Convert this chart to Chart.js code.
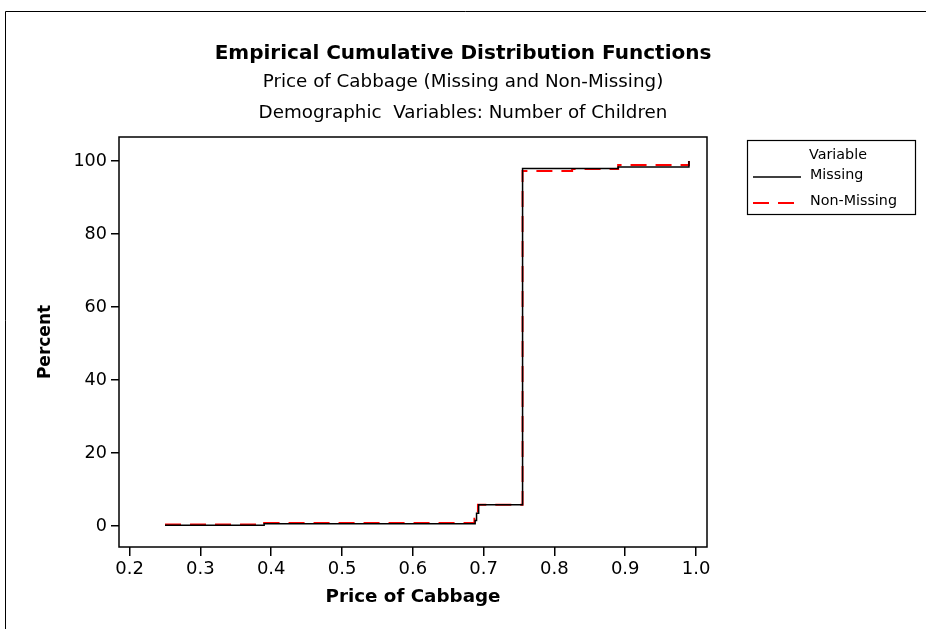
<!DOCTYPE html>
<html>
<head>
<meta charset="utf-8">
<script src="https://cdn.jsdelivr.net/npm/chart.js@4/dist/chart.umd.min.js"></script>
<style>
  html, body { margin: 0; padding: 0; background: #fff; }
  #wrap { width: 926px; height: 629px; }
</style>
</head>
<body>
<div id="wrap"><canvas id="ecdf" width="926" height="629"></canvas></div>
<script>
// Empirical CDF of cabbage price, split by whether "Number of Children" is missing
const missingPrice = [0.25, 0.39, 0.688, 0.690, 0.693, 0.755, 0.89, 0.99];
const missingPercent = [0.2, 0.6, 1.5, 3.5, 5.8, 98.0, 98.4, 100];

const nonMissingPrice = [0.25, 0.39, 0.687, 0.689, 0.692, 0.755, 0.825, 0.89, 0.99];
const nonMissingPercent = [0.4, 0.8, 2.0, 4.0, 5.8, 97.3, 97.8, 98.9, 100];

const priceTicks = [0.2, 0.3, 0.4, 0.5, 0.6, 0.7, 0.8, 0.9, 1.0];
const percentTicks = [0, 20, 40, 60, 80, 100];

const seriesNames = ['Missing', 'Non-Missing'];
const legendTitle = 'Variable';

const titleText = 'Empirical Cumulative Distribution Functions';
const subtitleLines = ['Price of Cabbage (Missing and Non-Missing)', 'Demographic  Variables: Number of Children'];

const FONT = "'DejaVu Sans', Verdana, sans-serif";

const toPoints = (xs, ys) => xs.map((x, i) => ({ x: x, y: ys[i] }));

// Outer frame, headings, plot box and the boxed legend
const decor = {
  id: 'decor',
  beforeDraw(chart) {
    const ctx = chart.ctx;
    ctx.save();
    ctx.strokeStyle = '#000';
    ctx.lineWidth = 1;
    ctx.beginPath();
    ctx.moveTo(5.5, chart.height);
    ctx.lineTo(5.5, 11.5);
    ctx.lineTo(chart.width, 11.5);
    ctx.stroke();

    // headings, centred on the whole page
    const cx = chart.width / 2;
    ctx.fillStyle = '#000';
    ctx.textAlign = 'center';
    ctx.textBaseline = 'middle';
    ctx.font = 'bold 20px ' + FONT;
    ctx.fillText(titleText, cx, 54);
    ctx.font = '18.3px ' + FONT;
    ctx.fillText(subtitleLines[0], cx, 82);
    ctx.fillText(subtitleLines[1], cx, 113);
    ctx.restore();
  },
  afterDraw(chart) {
    const ctx = chart.ctx;
    const a = chart.chartArea;
    ctx.save();
    ctx.strokeStyle = '#000';
    ctx.lineWidth = 1.5;
    ctx.strokeRect(a.left, a.top, a.right - a.left, a.bottom - a.top);

    // legend box
    const bx = 747, by = 140, bw = 168, bh = 74;
    ctx.lineWidth = 1.2;
    ctx.strokeRect(bx + 0.5, by + 0.5, bw, bh);
    ctx.fillStyle = '#000';
    ctx.font = '14.3px ' + FONT;
    ctx.textBaseline = 'middle';
    ctx.textAlign = 'center';
    ctx.fillText(legendTitle, 838, 155);
    ctx.textAlign = 'left';
    const ds = chart.data.datasets;
    const rows = [175, 201];
    rows.forEach((y, i) => {
      ctx.save();
      ctx.strokeStyle = ds[i].borderColor;
      ctx.lineWidth = ds[i].borderWidth;
      ctx.setLineDash(ds[i].borderDash || []);
      ctx.beginPath();
      ctx.moveTo(753, y + 2);
      ctx.lineTo(801, y + 2);
      ctx.stroke();
      ctx.restore();
      ctx.fillText(ds[i].label, 810, y);
    });
    ctx.restore();
  }
};

new Chart(document.getElementById('ecdf'), {
  type: 'line',
  data: {
    datasets: [
      {
        label: seriesNames[0],
        data: toPoints(missingPrice, missingPercent),
        borderColor: '#000000',
        borderWidth: 1.5,
        stepped: 'before',
        pointRadius: 0,
        fill: false
      },
      {
        label: seriesNames[1],
        data: toPoints(nonMissingPrice, nonMissingPercent),
        borderColor: '#ff0000',
        borderWidth: 2,
        borderDash: [16, 9],
        stepped: 'before',
        pointRadius: 0,
        fill: false
      }
    ]
  },
  options: {
    responsive: false,
    animation: false,
    layout: { padding: { left: 0, right: 219, top: 137, bottom: 0 } },
    plugins: {
      legend: { display: false },
      tooltip: { enabled: false },
      title: { display: false },
      subtitle: { display: false }
    },
    scales: {
      x: {
        type: 'linear',
        min: 0.185,
        max: 1.0155,
        afterBuildTicks: s => { s.ticks = priceTicks.map(v => ({ value: v })); },
        afterFit: s => { s.height = 82; },
        ticks: {
          color: '#000',
          font: { family: FONT, size: 18 },
          padding: 3,
          maxRotation: 0,
          autoSkip: false,
          callback: v => Number(v).toFixed(1)
        },
        grid: { drawOnChartArea: false, drawTicks: true, tickLength: 9, color: '#000', lineWidth: 1.5 },
        border: { display: false },
        title: {
          display: true,
          text: 'Price of Cabbage',
          color: '#000',
          font: { family: FONT, size: 18.3, weight: 'bold', lineHeight: 1.2 },
          padding: { top: 0, bottom: 21 }
        }
      },
      y: {
        type: 'linear',
        min: -5.75,
        max: 106.6,
        afterBuildTicks: s => { s.ticks = percentTicks.map(v => ({ value: v })); },
        afterFit: s => { s.width = 119; },
        ticks: {
          color: '#000',
          font: { family: FONT, size: 17.6 },
          padding: 4,
          autoSkip: false
        },
        grid: { drawOnChartArea: false, drawTicks: true, tickLength: 8, color: '#000', lineWidth: 1.5 },
        border: { display: false },
        title: {
          display: true,
          text: 'Percent',
          color: '#000',
          font: { family: FONT, size: 17, weight: 'bold', lineHeight: 1.2 },
          padding: { top: 35, bottom: 0 }
        }
      }
    }
  },
  plugins: [decor]
});
</script>
</body>
</html>
